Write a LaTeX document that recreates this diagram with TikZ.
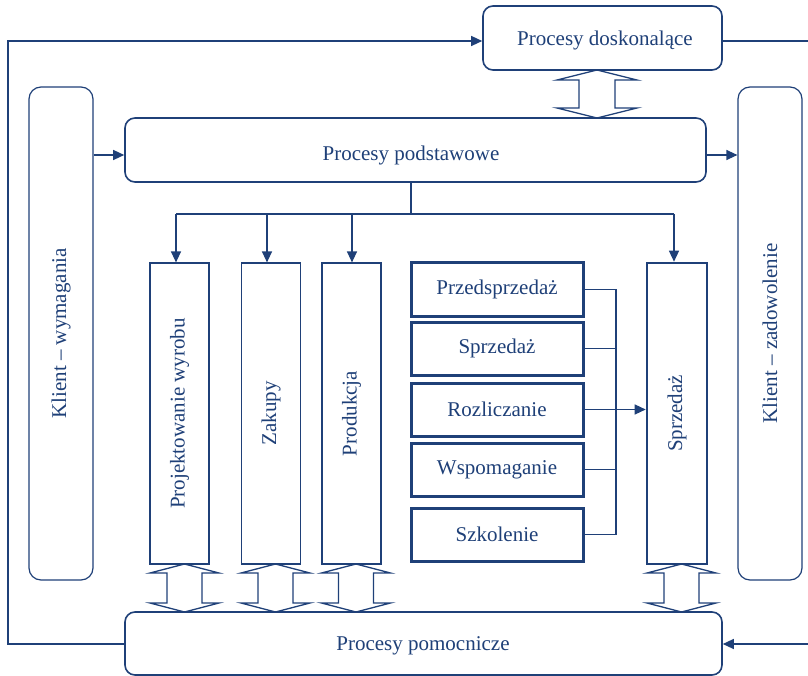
\documentclass[tikz,border=0pt]{standalone}
\usepackage{fontspec}
\setmainfont{Liberation Serif}
\usetikzlibrary{arrows.meta}
\definecolor{navy}{RGB}{31,64,120}

% hollow two-headed block arrow: centre x, top y, bottom y, head half-width, shaft half-width, head length
\newcommand{\vdblarrow}[6]{%
  \draw[blockarrow] (#1,#2) -- (#1+#4,#2+#6) -- (#1+#5,#2+#6) -- (#1+#5,#3-#6)
    -- (#1+#4,#3-#6) -- (#1,#3) -- (#1-#4,#3-#6) -- (#1-#5,#3-#6)
    -- (#1-#5,#2+#6) -- (#1-#4,#2+#6) -- cycle;}

\begin{document}
\begin{tikzpicture}[x=1pt,y=-1pt,
  every node/.style={text=navy,font=\fontsize{21}{25}\selectfont,inner sep=0pt},
  procbox/.style={draw=navy,line width=1.6pt,rounded corners=10pt,fill=white},
  clientbox/.style={draw=navy,line width=1.2pt,rounded corners=12pt,fill=white},
  areabox/.style={draw=navy,line width=1.2pt,fill=white},
  salesbox/.style={draw=navy,line width=2.6pt,fill=white},
  taskbox/.style={draw=navy,line width=3pt,fill=white},
  link/.style={draw=navy,line width=1.3pt},
  arr/.style={link,-{Triangle[length=11pt,width=10pt]}},
  blockarrow/.style={draw=navy,line width=1.3pt,fill=white,line join=miter}]

\useasboundingbox (0,0) rectangle (808,676);

% block arrows between process groups
\vdblarrow{597}{70}{118}{40}{18}{10}
\vdblarrow{184.5}{564}{612}{34.5}{17.5}{9}
\vdblarrow{275.5}{564}{612}{34.5}{17.5}{9}
\vdblarrow{356}{564}{612}{34.5}{17.5}{9}
\vdblarrow{681.5}{564}{612}{34.5}{17.5}{9}

% main process boxes
\node[procbox,minimum width=239pt,minimum height=64pt] (dosk) at (602.5,38) {};
\node (dosktxt) at (605,40) {Procesy doskonalące};
\node[procbox,minimum width=581pt,minimum height=64pt] (podst) at (415.5,150) {};
\node (podsttxt) at (411,155) {Procesy podstawowe};
\node[procbox,minimum width=597pt,minimum height=63pt] (pomoc) at (423.5,643.5) {};
\node (pomoctxt) at (423,646) {Procesy pomocnicze};

% customer side boxes
\node[clientbox,minimum width=64pt,minimum height=493pt] (kwym) at (61,333.5) {};
\node[rotate=90] (kwymtxt) at (61,333.5) {Klient – wymagania};
\node[clientbox,minimum width=64pt,minimum height=493pt] (kzad) at (770,333.5) {};
\node[rotate=90] (kzadtxt) at (770,333.5) {Klient – zadowolenie};

% functional areas
\node[areabox,minimum width=59pt,minimum height=301pt] (proj) at (179.5,413.5) {};
\node[rotate=90] (projtxt) at (proj.center) {Projektowanie wyrobu};
\node[areabox,minimum width=59pt,minimum height=301pt] (zak) at (271,413.5) {};
\node[rotate=90] (zaktxt) at (zak.center) {Zakupy};
\node[areabox,minimum width=59pt,minimum height=301pt] (prod) at (351.5,413.5) {};
\node[rotate=90] (prodtxt) at (prod.center) {Produkcja};
\node[salesbox,minimum width=60pt,minimum height=301pt] (sprz) at (677,413.5) {};
\node[rotate=90] (sprztxt) at (sprz.center) {Sprzedaż};

% sales tasks
\node[taskbox,minimum width=172pt,minimum height=53pt] (t1) at (497,289.5) {Przedsprzedaż};
\node[taskbox,minimum width=172pt,minimum height=53pt] (t2) at (497,348.5) {Sprzedaż};
\node[taskbox,minimum width=172pt,minimum height=53pt] (t3) at (497,409.5) {Rozliczanie};
\node[taskbox,minimum width=172pt,minimum height=53pt] (t4) at (497,469.5) {Wspomaganie};
\node[taskbox,minimum width=172pt,minimum height=53pt] (t5) at (497,534.5) {Szkolenie};

% task bus into the sales area
\coordinate (bus) at (616,0);
\draw[link] (t1.east) -- (t1.east -| bus) -- (t5.east -| bus) -- (t5.east);
\draw[link] (t2.east) -- (t2.east -| bus);
\draw[link] (t4.east) -- (t4.east -| bus);
\draw[arr] (t3.east) -- (t3.east -| sprz.west);

% distribution from the core processes
\coordinate (split) at (411,214);
\coordinate (b1) at (176,214);
\coordinate (b2) at (267,214);
\coordinate (b3) at (352,214);
\coordinate (b4) at (674,214);
\draw[link] (podst.south -| split) -- (split);
\draw[link] (b1) -- (b4);
\draw[arr] (b1) -- (b1 |- proj.north);
\draw[arr] (b2) -- (b2 |- zak.north);
\draw[arr] (b3) -- (b3 |- prod.north);
\draw[arr] (b4) -- (b4 |- sprz.north);

% customer flows
\coordinate (inrow) at (0,155);
\draw[arr] (kwym.east |- inrow) -- (podst.west |- inrow);
\draw[arr] (podst.east |- inrow) -- (kzad.west |- inrow);

% outer feedback loop
\coordinate (tl) at (8,41);
\coordinate (bl) at (8,644);
\coordinate (tr) at (808,41);
\coordinate (br) at (808,644);
\draw[arr] (pomoc.west |- bl) -- (bl) -- (tl) -- (dosk.west |- tl);
\draw[link] (dosk.east |- tr) -- (tr);
\draw[arr] (br) -- (pomoc.east |- br);
\end{tikzpicture}
\end{document}
